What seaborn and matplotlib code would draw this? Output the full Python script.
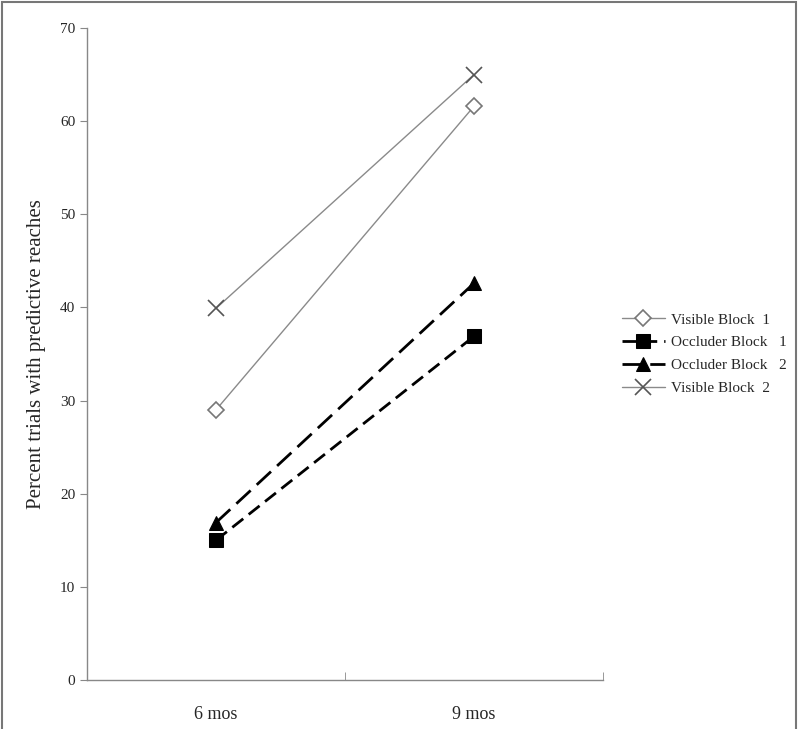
import matplotlib
matplotlib.use("Agg")
import matplotlib.pyplot as plt
import seaborn as sns
import pandas as pd
from matplotlib.patches import Rectangle
from matplotlib.ticker import FixedLocator

ages = ["6 mos", "9 mos"]
series_names = ["Visible Block  1", "Occluder Block   1", "Occluder Block   2", "Visible Block  2"]
visible1 = [29.0, 61.6]
occluder1 = [15.0, 36.9]
occluder2 = [16.9, 42.6]
visible2 = [39.9, 65.0]
yticks = [0, 10, 20, 30, 40, 50, 60, 70]

values = [visible1, occluder1, occluder2, visible2]
rows = []
for name, vals in zip(series_names, values):
    for a, v in zip(ages, vals):
        rows.append({"age": a, "pct": v, "series": name})
df = pd.DataFrame(rows)

sns.set_style("white")
plt.rcParams['font.family'] = ['Liberation Serif', 'DejaVu Serif']

fig = plt.figure(figsize=(8, 7.29), dpi=100)
ax = fig.add_axes([87/800, 1-680/729, (603-87)/800, (680-28)/729])

colors = {series_names[0]: "#8a8a8a", series_names[1]: "black",
          series_names[2]: "black", series_names[3]: "#8a8a8a"}
markers = {series_names[0]: "D", series_names[1]: "s",
           series_names[2]: "^", series_names[3]: "x"}
dashes = {series_names[0]: "", series_names[1]: (5, 2.5),
          series_names[2]: (7, 3), series_names[3]: ""}
widths = {series_names[0]: 1.0, series_names[1]: 2.0, series_names[2]: 2.0, series_names[3]: 1.0}

for name in series_names:
    sub = df[df.series == name]
    mk = markers[name]
    kw = dict(marker=mk, color=colors[name], lw=widths[name], label=name)
    if mk == "D":
        kw.update(markersize=8, markerfacecolor="white", markeredgecolor="#777777", markeredgewidth=1.2)
    elif mk == "x":
        kw.update(markersize=12, markeredgecolor="#555555", markeredgewidth=1.2)
    else:
        kw.update(markersize=10, markerfacecolor="black", markeredgecolor="black")
    sns.lineplot(data=sub, x="age", y="pct", ax=ax, **kw)
    l = ax.lines[-1]
    if dashes[name]:
        l.set_dashes(dashes[name])

ax.set_xlim(-0.5, 1.5)
ax.set_ylim(0, 70)
ax.set_yticks(yticks)
ax.set_xticks([0, 1])
ax.set_xticklabels(ages, fontsize=13)
ax.xaxis.set_minor_locator(FixedLocator([-0.5, 0.5, 1.5]))
ax.tick_params(axis='x', which='major', length=0, pad=19)
ax.tick_params(axis='x', which='minor', length=6, direction='in', color="#888888", bottom=True)
ax.tick_params(axis='y', length=5, direction='out', color="#888888", labelsize=11, left=True)
for s in ["top", "right"]:
    ax.spines[s].set_visible(False)
for s in ["left", "bottom"]:
    ax.spines[s].set_color("#888888")
    ax.spines[s].set_linewidth(1.0)
ax.set_xlabel("")
ax.set_ylabel("Percent trials with predictive reaches", fontsize=15, labelpad=10)

ax.legend(loc="center left", bbox_to_anchor=(1.01, 0.5), frameon=False, fontsize=11,
          handlelength=2.8, labelspacing=0.6, handletextpad=0.4)

fig.patches.append(Rectangle((0.003, -0.05), 0.992, 1.047, transform=fig.transFigure,
                             fill=False, edgecolor="#777777", lw=1.5, clip_on=False))
fig.savefig("out.png", dpi=100)
